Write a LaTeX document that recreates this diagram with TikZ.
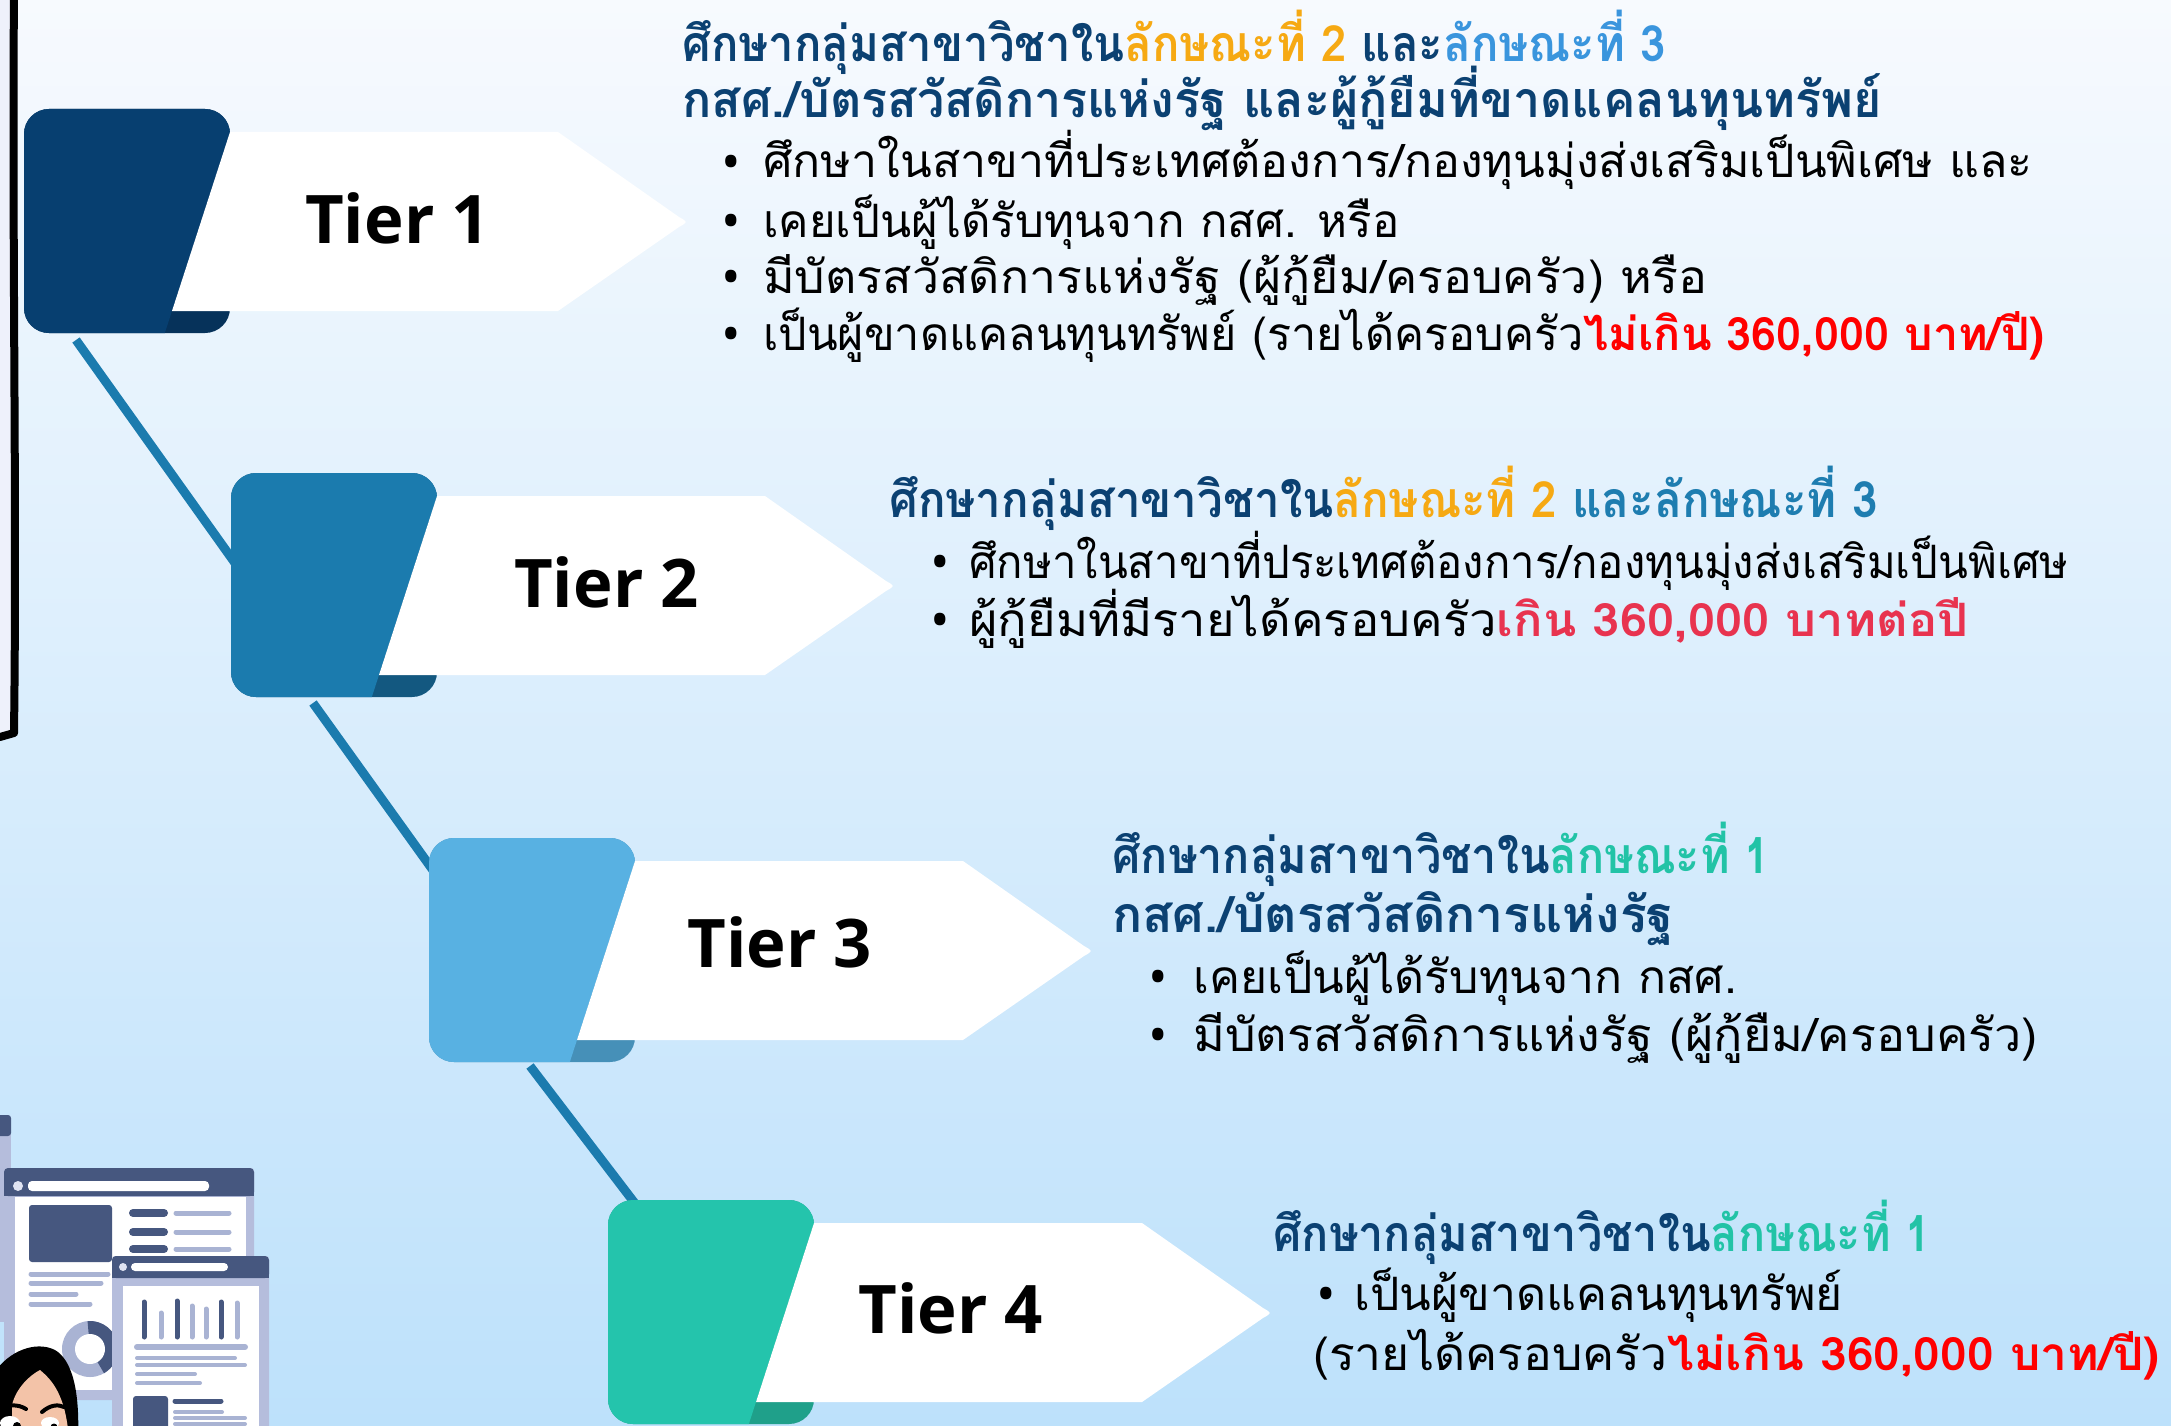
\documentclass[tikz,border=0pt]{standalone}
\usepackage{graphicx}
\usepackage{fontspec}
\setmainfont{Open Sans}
\newfontfamily\thai[Script=Thai,FakeStretch=0.9]{Loma}
\usetikzlibrary{calc}

\definecolor{bgtop}{HTML}{F7FAFE}
\definecolor{bgmid}{HTML}{DCEDFD}
\definecolor{bgbot}{HTML}{BDE1FB}
\definecolor{frameL}{HTML}{EEF1FB}
\definecolor{navy}{HTML}{0B4172}
\definecolor{amber}{HTML}{F6A913}
\definecolor{skyb}{HTML}{3A95DD}
\definecolor{midb}{HTML}{1E7DB0}
\definecolor{hotred}{HTML}{FF0000}
\definecolor{crim}{HTML}{E8334F}
\definecolor{teal}{HTML}{22C3A6}
\definecolor{tOne}{HTML}{073F70}
\definecolor{tOneD}{HTML}{06325A}
\definecolor{tTwo}{HTML}{1B7BAE}
\definecolor{tTwoD}{HTML}{135880}
\definecolor{tThree}{HTML}{58B1E2}
\definecolor{tThreeD}{HTML}{4690B8}
\definecolor{tFour}{HTML}{24C4AC}
\definecolor{tFourD}{HTML}{1FA08A}
\definecolor{link}{HTML}{1B7BAE}
\definecolor{illdark}{HTML}{46577F}
\definecolor{illlav}{HTML}{B5BDDC}
\definecolor{illlight}{HTML}{A9B3D3}
\definecolor{illdot}{HTML}{E0E4F2}
\definecolor{skin}{HTML}{F3C3A8}

% one tier: coloured tab (L,T) with its white arrow
\newcommand\tierbox[4]{%
  \fill[#4, rounded corners=25pt] (#1,#2) rectangle ++(206,224);
  \begin{scope}
    \clip (#1-10,#2-10) -- (#1+216.7,#2-10) -- (#1+137.6,#2+234) -- (#1-10,#2+234) -- cycle;
    \fill[#3, rounded corners=25pt] (#1,#2) rectangle ++(206,224);
  \end{scope}
  \fill[white] (#1+206,#2+23) -- (#1+534,#2+23) -- (#1+655,#2+108)
     .. controls (#1+664,#2+113) .. (#1+655,#2+118) -- (#1+534,#2+202)
     -- (#1+148,#2+202) -- cycle;
}
% widen a line of text horizontally only
\newcommand\wide[2]{\scalebox{#1}[1]{#2}}

\begin{document}
\begin{tikzpicture}[x=1pt,y=-1pt,
  tierlabel/.style={anchor=base west, inner sep=0pt, font=\bfseries\fontsize{67}{80}\selectfont, text=black},
  hd/.style={anchor=base west, inner sep=0pt, font=\thai\bfseries\fontsize{50}{60}\selectfont, text=navy},
  bl/.style={anchor=base west, inner sep=0pt, font=\thai\fontsize{46}{56}\selectfont, text=black},
  dot/.style={anchor=base west, inner sep=0pt, font=\fontsize{52}{60}\selectfont, text=black},
  connector/.style={draw=link, line width=9pt}]
\useasboundingbox (0,0) rectangle (2171,1426);

% background
\shade[top color=bgtop, middle color=bgmid, bottom color=bgbot] (0,0) rectangle (2171,1426);
\fill[frameL] (0,0) rectangle (12,738);
\draw[line width=8pt, line cap=round, line join=round] (14,-10) .. controls (12,250) and (17,500) .. (14,733) -- (0,737);

% connectors between the tabs
\coordinate (s1) at (76,340);  \coordinate (e2) at (240,570);
\coordinate (s2) at (313,703); \coordinate (e3) at (440,880);
\coordinate (s3) at (530,1066); \coordinate (e4) at (640,1210);
\draw[connector] (s1) -- (e2);
\draw[connector] (s2) -- (e3);
\draw[connector] (s3) -- (e4);

% tabs
\tierbox{24}{109}{tOne}{tOneD}
\tierbox{231}{473}{tTwo}{tTwoD}
\tierbox{429}{838}{tThree}{tThreeD}
\tierbox{608}{1200}{tFour}{tFourD}

\node[tierlabel] (t1) at (305,243) {Tier 1};
\node[tierlabel] (t2) at (514,607) {Tier 2};
\node[tierlabel] (t3) at (687,967) {Tier 3};
\node[tierlabel] (t4) at (858,1333) {Tier 4};

% Tier 1 conditions
\node[hd] (a1) at (682,62) {\wide{1.01}{ศึกษากลุ่มสาขาวิชาใน\textcolor{amber}{ลักษณะที่ 2} และ\textcolor{skyb}{ลักษณะที่ 3}}};
\node[hd] (a2) at (682,118) {\wide{1.076}{กสศ./บัตรสวัสดิการแห่งรัฐ และผู้กู้ยืมที่ขาดแคลนทุนทรัพย์}};
\node[dot] (a3d) at (721,180) {•};
\node[bl] (a3) at (763,178) {\wide{1.123}{ศึกษาในสาขาที่ประเทศต้องการ/กองทุนมุ่งส่งเสริมเป็นพิเศษ และ}};
\node[dot] (a4d) at (721,239) {•};
\node[bl] (a4) at (763,237) {\wide{1.10}{เคยเป็นผู้ได้รับทุนจาก กสศ. หรือ}};
\node[dot] (a5d) at (721,295) {•};
\node[bl] (a5) at (763,293) {\wide{1.165}{มีบัตรสวัสดิการแห่งรัฐ (ผู้กู้ยืม/ครอบครัว) หรือ}};
\node[dot] (a6d) at (721,352) {•};
\node[bl] (a6) at (763,350) {\wide{1.086}{เป็นผู้ขาดแคลนทุนทรัพย์ (รายได้ครอบครัว{\bfseries\color{hotred}ไม่เกิน 360,000 บาท/ปี)}}};

% Tier 2 conditions
\node[hd] (b1) at (889,517) {\wide{1.015}{ศึกษากลุ่มสาขาวิชาใน\textcolor{amber}{ลักษณะที่ 2} \textcolor{midb}{และลักษณะที่ 3}}};
\node[dot] (b2d) at (930,580) {•};
\node[bl] (b2) at (969,578) {\wide{1.055}{ศึกษาในสาขาที่ประเทศต้องการ/กองทุนมุ่งส่งเสริมเป็นพิเศษ}};
\node[dot] (b3d) at (930,638) {•};
\node[bl] (b3) at (969,636) {\wide{1.18}{ผู้กู้ยืมที่มีรายได้ครอบครัว{\bfseries\color{crim}เกิน 360,000 บาทต่อปี}}};

% Tier 3 conditions
\node[hd] (c1) at (1112,873) {ศึกษากลุ่มสาขาวิชาใน\textcolor{teal}{ลักษณะที่ 1}};
\node[hd] (c2) at (1112,932) {\wide{1.11}{กสศ./บัตรสวัสดิการแห่งรัฐ}};
\node[dot] (c3d) at (1148,995) {•};
\node[bl] (c3) at (1193,993) {\wide{1.12}{เคยเป็นผู้ได้รับทุนจาก กสศ.}};
\node[dot] (c4d) at (1148,1053) {•};
\node[bl] (c4) at (1193,1051) {\wide{1.17}{มีบัตรสวัสดิการแห่งรัฐ (ผู้กู้ยืม/ครอบครัว)}};

% Tier 4 conditions
\node[hd] (d1) at (1273,1251) {ศึกษากลุ่มสาขาวิชาใน\textcolor{teal}{ลักษณะที่ 1}};
\node[dot] (d2d) at (1316,1312) {•};
\node[bl] (d2) at (1354,1310) {\wide{1.12}{เป็นผู้ขาดแคลนทุนทรัพย์}};
\node[bl] (d3) at (1313,1370) {\wide{1.16}{(รายได้ครอบครัว{\bfseries\color{hotred}ไม่เกิน 360,000 บาท/ปี)}}};

% illustration: browser windows
\fill[illlav] (-5,1125) rectangle (11,1322);
\fill[illdark, rounded corners=3pt] (-5,1115) rectangle (11,1136);
\fill[illlav, rounded corners=3pt] (4,1168) rectangle (254,1400);
\fill[illdark, rounded corners=4pt] (4,1168) rectangle (254,1196);
\fill[illdark] (4,1185) rectangle (254,1196);
\fill[white] (15,1197) rectangle (246,1390);
\fill[illdot] (18,1186) circle (5);
\fill[white, rounded corners=4pt] (28,1181) rectangle (209,1191);
\fill[illdark, rounded corners=3pt] (29,1205) rectangle (112,1262);
\foreach \yy in {1213,1232,1249} {
  \draw[illdark, line width=8pt, line cap=round] (133,\yy) -- (164,\yy);
  \draw[illlight, line width=5pt, line cap=round] (176,\yy) -- (229,\yy);
}
\draw[illlight, line width=5pt, line cap=round] (31,1274) -- (108,1274);
\draw[illlight, line width=5pt, line cap=round] (31,1283) -- (101,1283);
\draw[illlight, line width=5pt, line cap=round] (31,1294) -- (76,1294);
\draw[illlight, line width=5pt, line cap=round] (31,1304) -- (90,1304);
\fill[illlight] (90,1349) circle (28);
\fill[illdark] (90,1349) -- ++(-95:28) arc[start angle=-95, end angle=60, radius=28] -- cycle;
\fill[white] (90,1349) circle (15);

\fill[illlav, rounded corners=3pt] (112,1256) rectangle (269,1440);
\fill[illdark, rounded corners=4pt] (112,1256) rectangle (269,1278);
\fill[illdark] (112,1270) rectangle (269,1278);
\fill[illdot] (123,1267) circle (4);
\fill[white, rounded corners=4pt] (131,1263) rectangle (228,1271);
\fill[white] (123,1286) rectangle (259,1440);
\foreach \xx/\yt/\cc in {144/1302/illdark,161/1313/illlight,177/1301/illdark,192/1306/illlight,206/1309/illlight,221/1302/illdark,237/1303/illlight}
  \draw[\cc, line width=5pt, line cap=round] (\xx,\yt) -- (\xx,1337);
\draw[illlight, line width=6pt, line cap=round] (137,1347) -- (245,1347);
\draw[illlight, line width=4pt, line cap=round] (137,1358) -- (235,1358);
\draw[illlight, line width=4pt, line cap=round] (137,1365) -- (245,1365);
\draw[illlight, line width=4pt, line cap=round] (137,1374) -- (195,1374);
\draw[illlight, line width=4pt, line cap=round] (137,1383) -- (200,1383);
\fill[illdark, rounded corners=3pt] (133,1396) rectangle (168,1440);
\draw[illdark, line width=5pt, line cap=round] (175,1401) -- (221,1401);
\draw[illlight, line width=4pt, line cap=round] (175,1412) -- (222,1412);
\draw[illlight, line width=4pt, line cap=round] (175,1418) -- (245,1418);
\draw[illlight, line width=4pt, line cap=round] (175,1424) -- (245,1424);

% illustration: person
\fill[black] (-5,1440) -- (-5,1372) .. controls (8,1352) and (35,1340) .. (55,1350)
  .. controls (72,1360) and (80,1390) .. (78,1440) -- cycle;
\fill[skin] (12,1440) -- (12,1405) .. controls (16,1388) and (30,1375) .. (40,1370)
  .. controls (52,1380) and (66,1395) .. (69,1440) -- cycle;
\draw[black, line width=4pt, line cap=round] (-2,1410) .. controls (8,1404) and (18,1404) .. (26,1409);
\draw[black, line width=4pt, line cap=round] (42,1412) .. controls (50,1405) and (58,1404) .. (64,1407);
\fill[white] (10,1423) ellipse (10 and 7);
\fill[white] (50,1423) ellipse (9 and 6);
\fill[black] (17,1426) circle (4);
\fill[black] (54,1427) circle (3.5);
\end{tikzpicture}
\end{document}
